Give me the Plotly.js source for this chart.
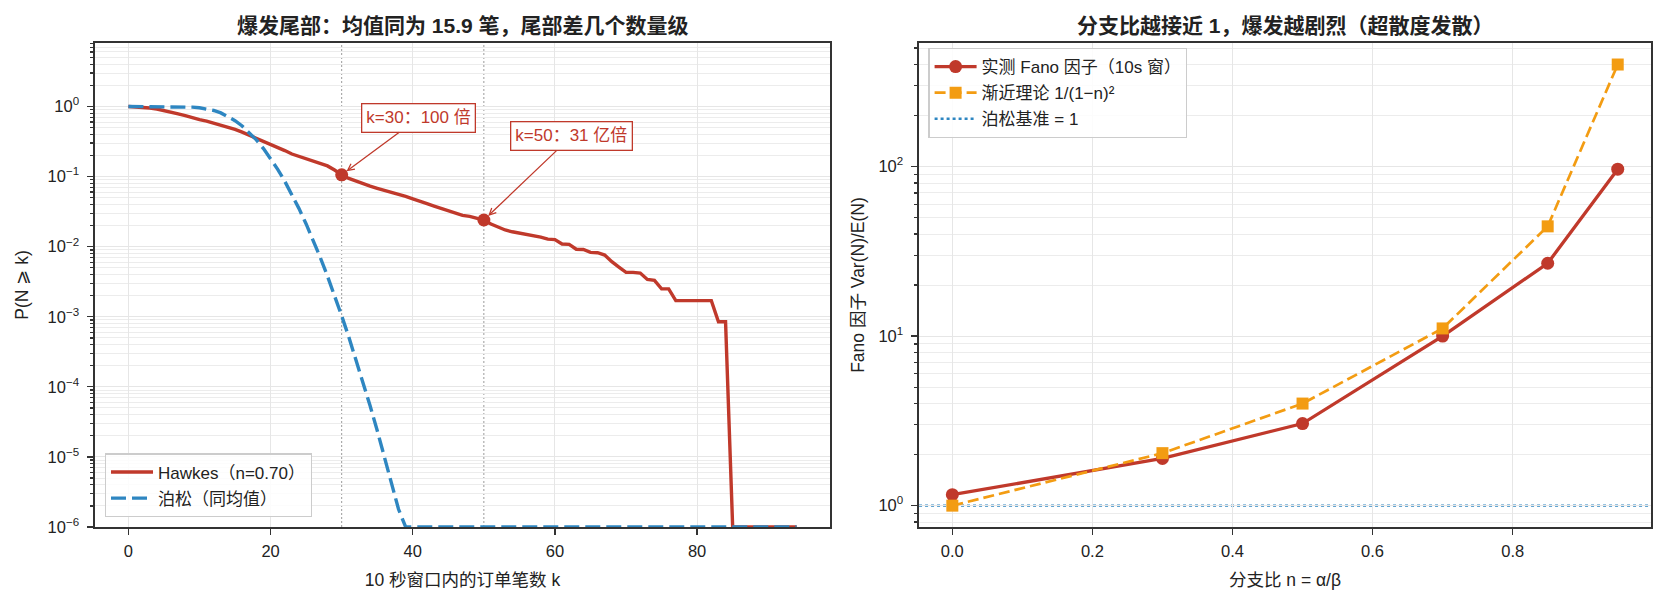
<!DOCTYPE html>
<html>
<head>
<meta charset="utf-8">
<script src="https://cdn.plot.ly/plotly-3.0.1.min.js"></script>
<style>
  html, body { margin: 0; padding: 0; background: #ffffff; }
  #chart { width: 1665px; height: 602px; }
</style>
</head>
<body>
<div id="chart"></div>
<script>
// ---------- Data ----------
const kValues = [0,1,2,3,4,5,6,7,8,9,10,11,12,13,14,15,16,17,18,19,20,21,22,23,24,25,26,27,28,29,30,31,32,33,34,35,36,37,38,39,40,41,42,43,44,45,46,47,48,49,50,51,52,53,54,55,56,57,58,59,60,61,62,63,64,65,66,67,68,69,70,71,72,73,74,75,76,77,78,79,80,81,82,83,84,85,86,87,88,89,90,91,92,93,94];

const hawkesSurvival = [
  1.0, 0.99, 0.97, 0.95, 0.92, 0.88, 0.835, 0.785, 0.74, 0.69,
  0.65, 0.62, 0.58, 0.545, 0.51, 0.47, 0.43, 0.39, 0.355, 0.32,
  0.29, 0.26, 0.235, 0.21, 0.195, 0.182, 0.168, 0.156, 0.142, 0.124,
  0.106, 0.094, 0.086, 0.079, 0.073, 0.068, 0.064, 0.060, 0.056, 0.052,
  0.048, 0.045, 0.041, 0.038, 0.035, 0.033, 0.030, 0.028, 0.027, 0.0255,
  0.024, 0.021, 0.0188, 0.0173, 0.0163, 0.0156, 0.0150, 0.0146, 0.0137, 0.0128,
  0.0126, 0.0109, 0.0108, 0.0092, 0.0091, 0.0083, 0.0082, 0.0076, 0.0061, 0.0051,
  0.0043, 0.0043, 0.0042, 0.0034, 0.0033, 0.0025, 0.0025, 0.0017, 0.0017, 0.0017,
  0.0017, 0.0017, 0.0017, 0.00085, 0.00085, 1e-6, 1e-6, 1e-6, 1e-6, 1e-6,
  1e-6, 1e-6, 1e-6, 1e-6, 1e-6
];

const poissonSurvival = [
  1.0, 1.0, 1.0, 1.0, 0.9999, 0.9997, 0.9987, 0.996, 0.99, 0.978,
  0.958, 0.926, 0.877, 0.81, 0.724, 0.628, 0.527, 0.427, 0.334, 0.251,
  0.182, 0.127, 0.0857, 0.0557, 0.0349, 0.0211, 0.0123, 0.00695, 0.0038, 0.00201,
  0.00103, 5.15e-4, 2.49e-4, 1.17e-4, 5.36e-5, 2.38e-5, 1.03e-5, 4.36e-6, 1.79e-6, 1e-6,
  1e-6, 1e-6, 1e-6, 1e-6, 1e-6, 1e-6, 1e-6, 1e-6, 1e-6, 1e-6,
  1e-6, 1e-6, 1e-6, 1e-6, 1e-6, 1e-6, 1e-6, 1e-6, 1e-6, 1e-6,
  1e-6, 1e-6, 1e-6, 1e-6, 1e-6, 1e-6, 1e-6, 1e-6, 1e-6, 1e-6,
  1e-6, 1e-6, 1e-6, 1e-6, 1e-6, 1e-6, 1e-6, 1e-6, 1e-6, 1e-6,
  1e-6, 1e-6, 1e-6, 1e-6, 1e-6, 1e-6, 1e-6, 1e-6, 1e-6, 1e-6,
  1e-6, 1e-6, 1e-6, 1e-6, 1e-6
];

const markedK = [30, 50];
const markedLabels = ["k=30：100 倍", "k=50：31 亿倍"];

const branchingRatio = [0.0, 0.3, 0.5, 0.7, 0.85, 0.95];
const fanoMeasured = [1.16, 1.90, 3.05, 10.0, 26.9, 96.5];
const fanoTheory = [1.0, 2.04, 4.0, 11.1, 44.4, 400];
const poissonBaseline = 1;

const leftYTickVals = [1e-6, 1e-5, 1e-4, 1e-3, 1e-2, 1e-1, 1e0];
const leftYTickText = ["10<sup>−6</sup>", "10<sup>−5</sup>", "10<sup>−4</sup>", "10<sup>−3</sup>", "10<sup>−2</sup>", "10<sup>−1</sup>", "10<sup>0</sup>"];
const rightYTickVals = [1, 10, 100];
const rightYTickText = ["10<sup>0</sup>", "10<sup>1</sup>", "10<sup>2</sup>"];

// ---------- Styles ----------
const RED = "#c0392b", BLUE = "#2e86c1", ORANGE = "#f39c12";
const FONT = "Liberation Sans, Noto Sans CJK SC, sans-serif";
const TXT = "#222222";

function minorLogVals(fromExp, toExp) {
  const out = [];
  for (let e = fromExp; e <= toExp; e++) {
    for (let m = 2; m <= 9; m++) out.push(m * Math.pow(10, e));
  }
  return out;
}

const markedY = markedK.map(k => hawkesSurvival[kValues.indexOf(k)]);

const traces = [
  { x: kValues, y: hawkesSurvival, type: "scatter", mode: "lines", name: "Hawkes（n=0.70）",
    line: { color: RED, width: 3.4 }, xaxis: "x", yaxis: "y", legend: "legend", legendgroup: "a" },
  { x: kValues, y: poissonSurvival, type: "scatter", mode: "lines", name: "泊松（同均值）",
    line: { color: BLUE, width: 3.4, dash: "15px,6px" }, xaxis: "x", yaxis: "y", legend: "legend", legendgroup: "b" },
  { x: markedK, y: markedY, type: "scatter", mode: "markers", showlegend: false,
    marker: { color: RED, size: 13 }, xaxis: "x", yaxis: "y" },
  { x: branchingRatio, y: fanoMeasured, type: "scatter", mode: "lines+markers", name: "实测 Fano 因子（10s 窗）",
    line: { color: RED, width: 3.3 }, marker: { color: RED, size: 13, symbol: "circle" },
    xaxis: "x2", yaxis: "y2", legend: "legend2", legendgroup: "c" },
  { x: branchingRatio, y: fanoTheory, type: "scatter", mode: "lines+markers", name: "渐近理论 1/(1−n)²",
    line: { color: ORANGE, width: 2.7, dash: "11px,5px" }, marker: { color: ORANGE, size: 12, symbol: "square" },
    xaxis: "x2", yaxis: "y2", legend: "legend2", legendgroup: "d" },
  { x: [null], y: [null], type: "scatter", mode: "lines", name: "泊松基准 = 1",
    line: { color: BLUE, width: 2.4, dash: "3px,3px" }, xaxis: "x2", yaxis: "y2", legend: "legend2", legendgroup: "e" }
];

const axisCommon = {
  showline: true, linecolor: "#333333", linewidth: 1.6, mirror: true,
  ticks: "outside", ticklen: 6, tickwidth: 1.3, tickcolor: "#333333",
  gridcolor: "#e6e6e6", gridwidth: 1, zeroline: false,
  tickfont: { family: FONT, size: 16.5, color: TXT }
};

const layout = {
  width: 1665, height: 602,
  margin: { l: 95, r: 14, t: 43, b: 75 },
  paper_bgcolor: "#ffffff", plot_bgcolor: "#ffffff",
  font: { family: FONT, color: TXT, size: 16 },
  showlegend: true,
  xaxis: Object.assign({}, axisCommon, {
    domain: [0, 0.4724], anchor: "y", range: [-4.7, 98.7],
    tickmode: "linear", tick0: 0, dtick: 20, ticklabelstandoff: 3,
    title: { text: "10 秒窗口内的订单笔数 k", font: { family: FONT, size: 17.5, color: TXT }, standoff: 14 }
  }),
  yaxis: Object.assign({}, axisCommon, {
    domain: [0, 1], anchor: "x", type: "log", range: [-6, 0.906], ticklabelstandoff: 5,
    tickmode: "array", tickvals: leftYTickVals, ticktext: leftYTickText,
    minor: { tickmode: "array", tickvals: minorLogVals(-6, 0), ticks: "outside", ticklen: 3.5,
             tickcolor: "#333333", showgrid: true, gridcolor: "#ececec", gridwidth: 1 },
    title: { text: "P(N ⩾ k)", font: { family: FONT, size: 17.5, color: TXT }, standoff: 14 }
  }),
  xaxis2: Object.assign({}, axisCommon, {
    domain: [0.5296, 1], anchor: "y2", range: [-0.0475, 0.9975],
    tickmode: "linear", tick0: 0, dtick: 0.2, tickformat: ".1f", ticklabelstandoff: 3,
    title: { text: "分支比 n = α/β", font: { family: FONT, size: 17.5, color: TXT }, standoff: 14 }
  }),
  yaxis2: Object.assign({}, axisCommon, {
    domain: [0, 1], anchor: "x2", type: "log", range: [-0.126, 2.729], ticklabelstandoff: 5,
    tickmode: "array", tickvals: rightYTickVals, ticktext: rightYTickText,
    minor: { tickmode: "array", tickvals: minorLogVals(-1, 2).filter(v => v > 0.7 && v < 540),
             ticks: "outside", ticklen: 3.5, tickcolor: "#333333", showgrid: true, gridcolor: "#ececec", gridwidth: 1 },
    title: { text: "Fano 因子 Var(N)/E(N)", font: { family: FONT, size: 17.5, color: TXT }, standoff: 9 }
  }),
  legend: {
    x: 0.0063, y: 0.02, xanchor: "left", yanchor: "bottom",
    bgcolor: "rgba(255,255,255,0.85)", bordercolor: "#cccccc", borderwidth: 1.2,
    font: { family: FONT, size: 17, color: TXT }, traceorder: "grouped", tracegroupgap: 1, itemwidth: 42
  },
  legend2: {
    x: 0.5356, y: 0.99, xanchor: "left", yanchor: "top",
    bgcolor: "rgba(255,255,255,0.85)", bordercolor: "#cccccc", borderwidth: 1.2,
    font: { family: FONT, size: 17, color: TXT }, traceorder: "grouped", tracegroupgap: 1, itemwidth: 42
  },
  shapes: markedK.map(k => ({
    type: "line", xref: "x", yref: "y domain", x0: k, x1: k, y0: 0, y1: 1, layer: "below",
    line: { color: "#9a9a9a", width: 1, dash: "2px,2px" }
  })).concat([{
    type: "line", xref: "x2 domain", yref: "y2", x0: 0, x1: 1, y0: poissonBaseline, y1: poissonBaseline, layer: "below",
    line: { color: BLUE, width: 2.4, dash: "3px,3px" }
  }]),
  annotations: [
    { xref: "x domain", yref: "paper", x: 0.5, y: 1.037, xanchor: "center", yanchor: "middle", showarrow: false,
      text: "<b>爆发尾部：均值同为 15.9 笔，尾部差几个数量级</b>", font: { family: FONT, size: 21, color: TXT } },
    { xref: "x2 domain", yref: "paper", x: 0.5, y: 1.037, xanchor: "center", yanchor: "middle", showarrow: false,
      text: "<b>分支比越接近 1，爆发越剧烈（超散度发散）</b>", font: { family: FONT, size: 21, color: TXT } }
  ].concat(markedK.map((k, i) => ({
    xref: "x", yref: "y", x: k, y: Math.log10(markedY[i]),
    text: markedLabels[i], showarrow: true, arrowhead: 5, arrowsize: 1, arrowwidth: 1.3, arrowcolor: RED,
    ax: i === 0 ? 77 : 88, ay: i === 0 ? -57 : -84, standoff: 6,
    font: { family: FONT, size: 17, color: RED },
    bgcolor: "#ffffff", bordercolor: RED, borderwidth: 1.3, borderpad: 4
  })))
};

Plotly.newPlot("chart", traces, layout, { displayModeBar: false, staticPlot: true });
</script>
</body>
</html>
